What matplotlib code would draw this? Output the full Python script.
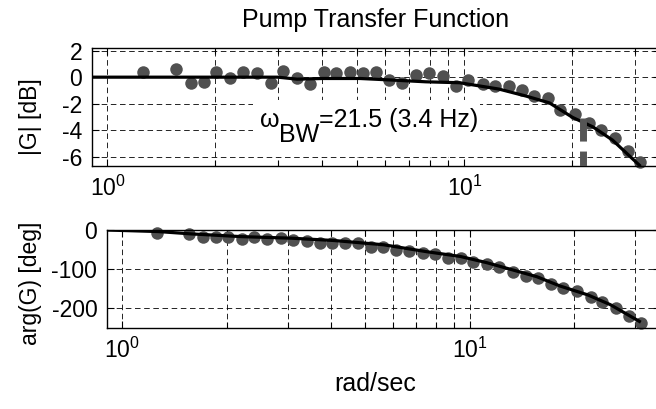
import numpy as np
import matplotlib
matplotlib.use('Agg')
import matplotlib.pyplot as plt
from matplotlib.patches import Rectangle
from matplotlib.ticker import NullFormatter

plt.rcParams['font.family'] = ['Liberation Sans', 'DejaVu Sans']
plt.rcParams['mathtext.fontset'] = 'custom'
plt.rcParams['mathtext.rm'] = 'Liberation Sans'
plt.rcParams['mathtext.it'] = 'Liberation Sans'
plt.rcParams['mathtext.default'] = 'regular'
plt.rcParams['lines.scale_dashes'] = False
plt.rcParams['axes.unicode_minus'] = False

# measured frequencies (rad/sec)
freq = [1.26, 1.56, 1.71, 1.86, 2.02, 2.21, 2.40, 2.62, 2.87, 3.10, 3.40, 3.70,
        4.03, 4.38, 4.77, 5.20, 5.64, 6.14, 6.70, 7.33, 7.95, 8.68, 9.47, 10.25,
        11.25, 12.15, 13.35, 14.5, 15.7, 17.1, 18.55, 20.4, 22.35, 24.1, 26.4,
        28.8, 31.1]
mag_db = [0.4, 0.6, -0.43, -0.35, 0.4, -0.1, 0.4, 0.28, -0.43, 0.45, -0.05, -0.48,
          0.4, 0.28, 0.4, 0.28, 0.4, -0.25, -0.43, 0.15, 0.28, 0.1, -0.68, -0.23,
          -0.53, -0.68, -0.68, -0.98, -1.4, -1.6, -2.5, -2.8, -3.45, -4.0, -4.6,
          -5.6, -6.4]
phase_deg = [-7, -11, -17, -19, -19, -23, -17, -23, -21, -26, -27, -34,
             -33, -33, -33, -43, -43, -51, -53, -58, -62, -73, -71, -81,
             -87, -94, -107, -118, -124, -138, -150, -158, -173, -184, -201,
             -221, -238]

# fitted model
fit_w = [0.9, 3.0, 3.4, 4.0, 5.1, 6.3, 7.8, 9.7, 12.5, 14.9, 17.3, 20.1, 22.9, 26.0, 30.9]
fit_db = [0, 0, -0.15, -0.1, -0.1, -0.22, -0.35, -0.42, -0.9, -1.43, -1.94, -3.04,
          -3.75, -4.75, -6.64]
fit_pw = [0.9, 1.27, 1.58, 2.2, 3.06, 4.07, 5.66, 7.55, 9.4, 11.2, 13.1, 15.6, 18.2,
          21.9, 25.4, 30.8]
fit_deg = [0, -4, -10, -17, -21, -27, -38, -56, -68, -84, -101, -120, -144, -167,
           -192, -235]

w_bw = 21.5
bw_db = [-3.1, -8]

dot_c = '#505050'
W, H = 656, 409
fig = plt.figure(figsize=(W / 100, H / 100), dpi=100)
ax1 = fig.add_axes([92 / W, (H - 166) / H, 568 / W, 118 / H])
ax2 = fig.add_axes([107 / W, (H - 328) / H, 553 / W, 98 / H])

for ax in (ax1, ax2):
    ax.set_xscale('log')
    ax.set_xlim(0.905, 35.3)
    ax.set_xticks([1, 10])
    ax.xaxis.set_minor_formatter(NullFormatter())
    ax.set_axisbelow(True)
    ax.grid(True, which='both', axis='x', color='k', lw=0.6, ls=(0, (4, 2.6)))
    ax.grid(True, which='major', axis='y', color='k', lw=0.6, ls=(0, (4, 2.6)))
    ax.tick_params(which='both', direction='in', top=True, right=True, labelsize=16.5)
    ax.tick_params(which='major', length=5, width=0.8)
    ax.tick_params(which='minor', length=4, width=0.8)
    ax.tick_params(axis='x', pad=7)
    ax.tick_params(axis='y', pad=7)
    for s in ax.spines.values():
        s.set_linewidth(1.0)

# magnitude
ax1.plot(freq, mag_db, 'o', color=dot_c, ms=9, mec='none', zorder=2, clip_on=False)
ax1.plot(fit_w, fit_db, color='k', lw=2.3, zorder=3)
ax1.plot([w_bw, w_bw], bw_db, color='#555555', lw=5, ls=(0, (16.6, 7.2)), zorder=3.5)
ax1.set_ylim(-6.7, 2.2)
ax1.set_yticks([-6, -4, -2, 0, 2])
ax1.set_ylabel('|G| [dB]', fontsize=16.5)
ax1.yaxis.label.set_va('center')
ax1.yaxis.set_label_coords(-0.109, 0.42)
ax1.set_title('Pump Transfer Function', fontsize=18, pad=15)

ax1.add_patch(Rectangle((0.2835, 0.076), 0.3996, 0.483, transform=ax1.transAxes,
                        facecolor='white', edgecolor='none', zorder=1))
t1 = ax1.text(2.67, -3.76, 'ω', fontsize=18, va='baseline', zorder=4)
t2 = ax1.annotate('BW', xy=(1, 0), xycoords=t1, xytext=(0, -10.8),
                  textcoords='offset points', fontsize=18, va='bottom', ha='left', zorder=4)
ax1.annotate('=21.5 (3.4 Hz)', xy=(1, 0), xycoords=t2, xytext=(0, 10.8),
             textcoords='offset points', fontsize=18, va='bottom', ha='left', zorder=4)

# phase
ax2.plot(freq, phase_deg, 'o', color=dot_c, ms=9, mec='none', zorder=2, clip_on=False)
ax2.plot(fit_pw, fit_deg, color='k', lw=2.3, zorder=3)
ax2.set_ylim(-252, 0)
ax2.set_yticks([-200, -100, 0])
ax2.set_ylabel('arg(G) [deg]', fontsize=16.5)
ax2.yaxis.label.set_va('center')
ax2.yaxis.set_label_coords(-0.139, 0.46)
ax2.set_xlabel('rad/sec', fontsize=18)
ax2.xaxis.set_label_coords(0.485, -0.45)

fig.savefig('out.png', dpi=100)
